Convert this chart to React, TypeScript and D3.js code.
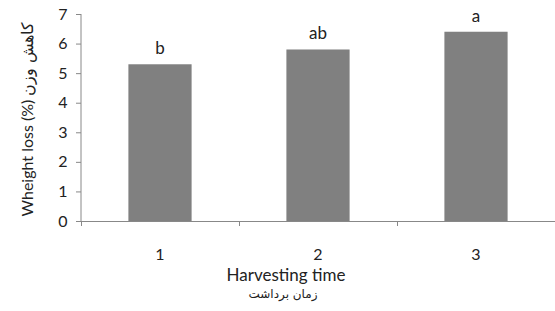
import React, { useRef, useEffect } from 'react';
import * as d3 from 'd3';

const categories = ['1', '2', '3'];
const values = [5.3, 5.8, 6.4];
const letters = ['b', 'ab', 'a'];
const yTicks = [0, 1, 2, 3, 4, 5, 6, 7];

const W = 555;
const H = 311;
const FONT = 'Lato, "Open Sans", sans-serif';

const App = () => {
  const svgRef = useRef<SVGSVGElement>(null);

  useEffect(() => {
    const svg = d3.select(svgRef.current);
    svg.selectAll('*').remove();

    const left = 81, right = 555, top = 14, bottom = 221;

    const x = d3.scaleBand<string>()
      .domain(categories)
      .range([left, right])
      .paddingInner(0.6)
      .paddingOuter(0.3);

    const y = d3.scaleLinear().domain([0, 7]).range([bottom, top]);

    svg.append('rect').attr('width', W).attr('height', H).attr('fill', '#fff');

    // bars
    svg.selectAll('rect.bar')
      .data(values)
      .join('rect')
      .attr('class', 'bar')
      .attr('x', (d, i) => x(categories[i])!)
      .attr('y', d => y(d))
      .attr('width', x.bandwidth())
      .attr('height', d => y(0) - y(d))
      .attr('fill', '#808080');

    // significance letters
    svg.selectAll('text.letter')
      .data(values)
      .join('text')
      .attr('class', 'letter')
      .attr('x', (d, i) => x(categories[i])! + x.bandwidth() / 2)
      .attr('y', d => y(d) - 10)
      .attr('text-anchor', 'middle')
      .style('font-family', FONT)
      .style('font-size', '17px')
      .attr('fill', '#222')
      .text((d, i) => letters[i]);

    // y axis
    const axisColor = '#888';
    svg.append('line')
      .attr('x1', left).attr('x2', left)
      .attr('y1', y(7)).attr('y2', y(0))
      .attr('stroke', axisColor);
    svg.selectAll('line.ytick')
      .data(yTicks)
      .join('line')
      .attr('class', 'ytick')
      .attr('x1', left - 5).attr('x2', left)
      .attr('y1', d => y(d) + 0.5).attr('y2', d => y(d) + 0.5)
      .attr('stroke', axisColor);
    svg.selectAll('text.ylab')
      .data(yTicks)
      .join('text')
      .attr('class', 'ylab')
      .attr('x', 63)
      .attr('y', d => y(d))
      .attr('dy', '0.35em')
      .attr('text-anchor', 'middle')
      .style('font-family', FONT)
      .style('font-size', '16px')
      .attr('fill', '#222')
      .text(d => d);

    // x axis
    svg.append('line')
      .attr('x1', left).attr('x2', right)
      .attr('y1', bottom + 0.5).attr('y2', bottom + 0.5)
      .attr('stroke', axisColor);
    const step = x.step();
    const bounds = categories.map((c, i) => left + i * step);
    svg.selectAll('line.xtick')
      .data(bounds)
      .join('line')
      .attr('class', 'xtick')
      .attr('x1', d => d + 0.5).attr('x2', d => d + 0.5)
      .attr('y1', bottom).attr('y2', bottom + 5)
      .attr('stroke', axisColor);
    svg.selectAll('text.xlab')
      .data(categories)
      .join('text')
      .attr('class', 'xlab')
      .attr('x', d => x(d)! + x.bandwidth() / 2)
      .attr('y', 260)
      .attr('text-anchor', 'middle')
      .style('font-family', FONT)
      .style('font-size', '16px')
      .attr('fill', '#222')
      .text(d => d);

    // axis titles
    const titleX = 286;
    svg.append('text')
      .attr('x', titleX).attr('y', 281)
      .attr('text-anchor', 'middle')
      .style('font-family', FONT)
      .style('font-size', '17px')
      .attr('fill', '#222')
      .text('Harvesting time');
    svg.append('text')
      .attr('x', titleX - 3).attr('y', 298)
      .attr('text-anchor', 'middle')
      .style('font-family', '"DejaVu Sans", sans-serif')
      .style('font-size', '12px')
      .attr('fill', '#222')
      .text('زمان برداشت');

    svg.append('text')
      .attr('transform', `translate(27, ${(top + bottom) / 2 + 2}) rotate(-90)`)
      .attr('dy', '0.35em')
      .attr('text-anchor', 'middle')
      .attr('direction', 'ltr')
      .style('font-family', FONT)
      .style('font-size', '16px')
      .attr('fill', '#222')
      .text('Wheight loss (%) کاهش وزن');
  }, []);

  return (
    <svg
      ref={svgRef}
      width={W}
      height={H}
      style={{ position: 'absolute', left: 0, top: 0 }}
    />
  );
};

export default App;
